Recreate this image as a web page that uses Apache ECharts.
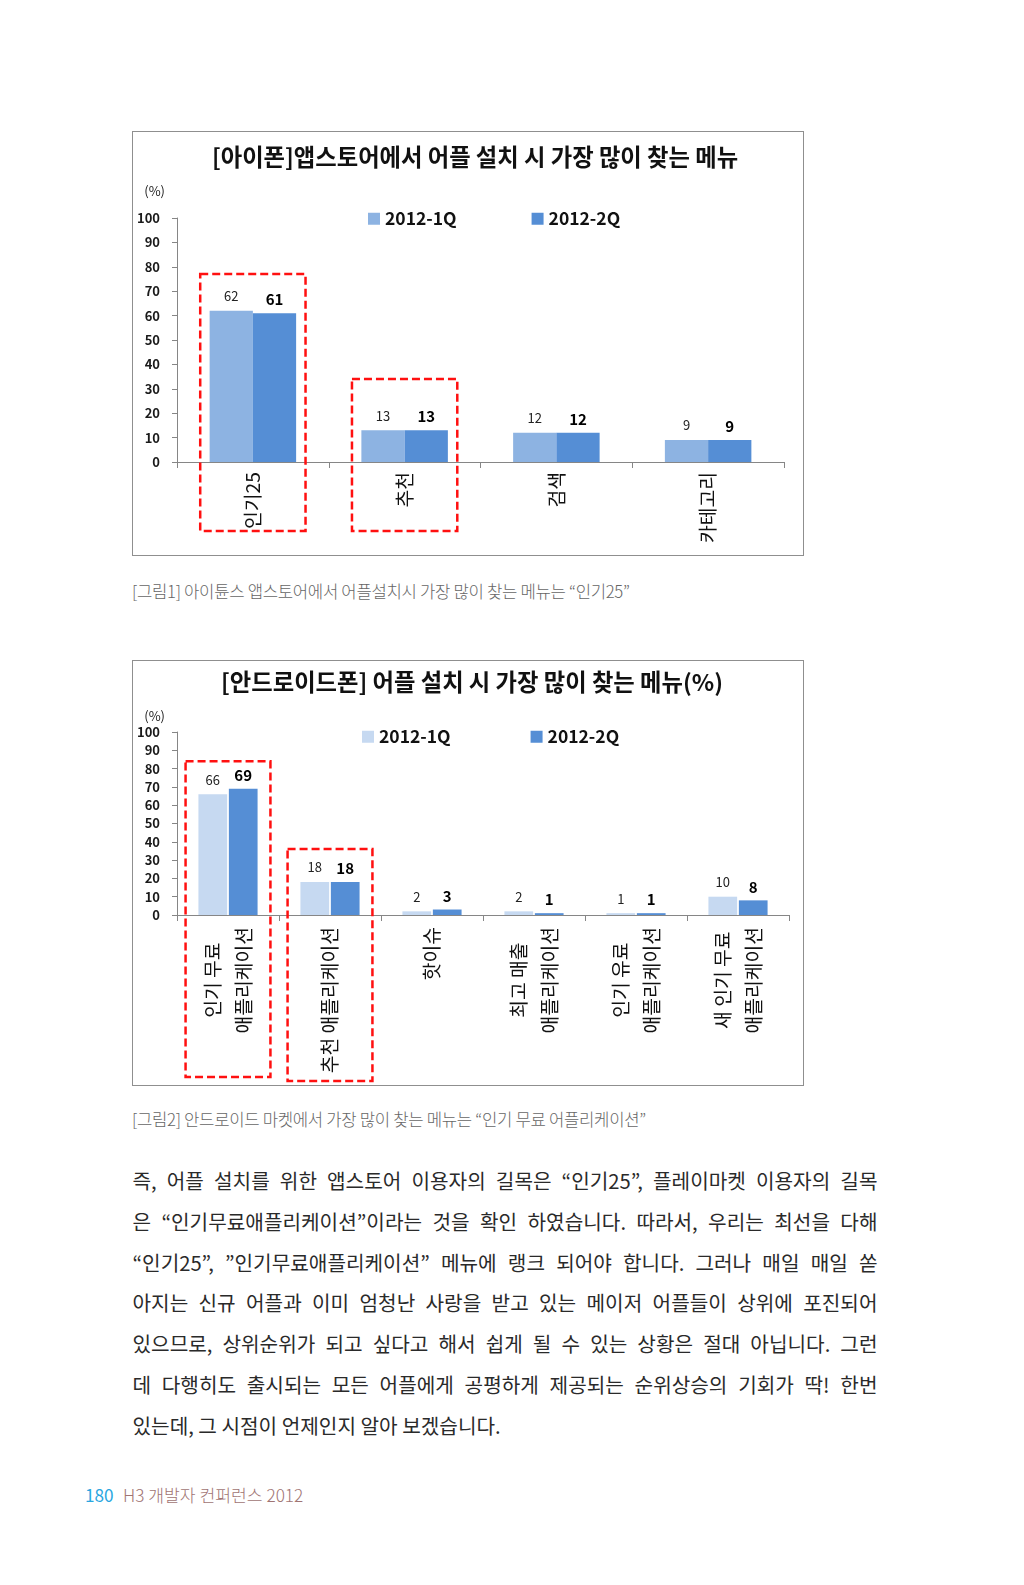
<!DOCTYPE html>
<html><head><meta charset="utf-8">
<script src="https://cdn.jsdelivr.net/npm/echarts@6/dist/echarts.min.js"></script>
<style>
html,body{margin:0;padding:0;background:#fff;width:1024px;height:1585px;overflow:hidden;font-family:"Noto Sans CJK KR","Noto Sans",sans-serif;}
.chart{position:absolute;left:132px;width:672px;}
.frame{position:absolute;left:132px;width:670px;border:1px solid #8f8f8f;pointer-events:none;}
.cap{position:absolute;left:132px;font-size:16.7px;color:#666;font-weight:300;white-space:nowrap;line-height:20px;letter-spacing:-0.3px;}
.line{position:absolute;left:132.5px;width:745px;font-size:20.2px;line-height:40px;color:#2a2a2a;text-align:justify;text-align-last:justify;white-space:nowrap;}
.line.last{text-align-last:left;}
.foot{position:absolute;top:1483px;font-size:17.2px;line-height:24px;white-space:nowrap;}
</style></head><body>
<div id="c1" class="chart" style="top:131px;height:425px;"></div>
<div class="frame" style="top:131px;height:423px;"></div>
<div class="cap" style="top:581px;">[그림1] 아이튠스 앱스토어에서 어플설치시 가장 많이 찾는 메뉴는 “인기25”</div>
<div id="c2" class="chart" style="top:660px;height:426px;"></div>
<div class="frame" style="top:660px;height:424px;"></div>
<div class="cap" style="top:1109px;">[그림2] 안드로이드 마켓에서 가장 많이 찾는 메뉴는 “인기 무료 어플리케이션”</div>
<div id="body"></div>
<div class="foot" style="left:85px;color:#2aa6df;">180</div>
<div class="foot" style="left:123px;color:#a07473;font-weight:300;">H3 개발자 컨퍼런스 2012</div>
<script>
// ---- data ----
const seriesNames = ['2012-1Q', '2012-2Q'];
const iphoneTitle = '[아이폰]앱스토어에서 어플 설치 시 가장 많이 찾는 메뉴';
const iphoneCategories = ['인기25', '추천', '검색', '카테고리'];
const iphone1Q = [62, 13, 12, 9];
const iphone2Q = [61, 13, 12, 9];
const iphoneHighlight = [{category: '인기25', top: 77}, {category: '추천', top: 34}];

const androidTitle = '[안드로이드폰] 어플 설치 시 가장 많이 찾는 메뉴(%)';
const androidCategories = ['인기 무료\n애플리케이션', '추천 애플리케이션', '핫이슈', '최고 매출\n애플리케이션', '인기 유료\n애플리케이션', '새 인기 무료\n애플리케이션'];
const android1Q = [66, 18, 2, 2, 1, 10];
const android2Q = [69, 18, 3, 1, 1, 8];
const androidHighlight = [{category: androidCategories[0], top: 84}, {category: androidCategories[1], top: 36}];

const yMin = 0, yMax = 100, yStep = 10;
const yName = '(%)';

const bodyLines = [
  '즉, 어플 설치를 위한 앱스토어 이용자의 길목은 “인기25”, 플레이마켓 이용자의 길목',
  '은 “인기무료애플리케이션”이라는 것을 확인 하였습니다. 따라서, 우리는 최선을 다해',
  '“인기25”, ”인기무료애플리케이션” 메뉴에 랭크 되어야 합니다. 그러나 매일 매일 쏟',
  '아지는 신규 어플과 이미 엄청난 사랑을 받고 있는 메이저 어플들이 상위에 포진되어',
  '있으므로, 상위순위가 되고 싶다고 해서 쉽게 될 수 있는 상황은 절대 아닙니다. 그런',
  '데 다행히도 출시되는 모든 어플에게 공평하게 제공되는 순위상승의 기회가 딱! 한번',
  '있는데, 그 시점이 언제인지 알아 보겠습니다.'
];

// ---- body text ----
const bodyEl = document.getElementById('body');
bodyLines.forEach((t, i) => {
  const d = document.createElement('div');
  d.className = 'line' + (i === bodyLines.length - 1 ? ' last' : '');
  d.style.top = (1161 + i * 40.75) + 'px';
  d.textContent = t;
  bodyEl.appendChild(d);
});

const FONT = '"Noto Sans CJK KR", "Noto Sans", sans-serif';

function buildOption(cfg) {
  return {
    animation: false,
    textStyle: {fontFamily: FONT},
    title: {
      text: cfg.title, left: cfg.titleLeft, top: cfg.titleTop, textAlign: 'center',
      textStyle: {fontFamily: FONT, fontSize: 23.3, fontWeight: 'bold', color: '#111'}
    },
    legend: {
      data: seriesNames, left: cfg.legendLeft, top: cfg.legendTop,
      itemWidth: 12, itemHeight: 12, itemGap: cfg.legendGap, icon: 'rect',
      textStyle: {fontFamily: FONT, fontSize: 17.5, fontWeight: 'bold', color: '#111'}
    },
    grid: {left: 45, right: cfg.gridRight, top: cfg.gridTop, bottom: cfg.gridBottom, containLabel: false},
    xAxis: {
      type: 'category', data: cfg.categories,
      axisLine: {lineStyle: {color: '#868686', width: 1}},
      axisTick: {show: true, length: 6, lineStyle: {color: '#868686'}},
      axisLabel: {
        interval: 0, rotate: 90, margin: cfg.labelMargin,
        fontFamily: FONT, fontSize: 19.3, color: '#111',
        formatter: function (v) {
          if (v.indexOf('\n') < 0) return v;
          return v.split('\n').map(s => '{c|' + s + '}').join('\n');
        },
        rich: {c: {fontFamily: FONT, fontSize: 19.3, color: '#111', align: 'center', lineHeight: 31.5}}
      }
    },
    yAxis: {
      type: 'value', min: yMin, max: yMax, interval: yStep,
      name: yName, nameLocation: 'end', nameGap: cfg.nameGap,
      nameTextStyle: {fontFamily: FONT, fontSize: 13, color: '#222', align: 'right', padding: [0, 12, 0, 0]},
      axisLine: {show: true, lineStyle: {color: '#868686'}},
      axisTick: {show: true, length: 5, lineStyle: {color: '#868686'}},
      splitLine: {show: false},
      axisLabel: {margin: 17, fontFamily: FONT, fontSize: 13, fontWeight: 'bold', color: '#1a1a1a'}
    },
    series: [
      {
        name: seriesNames[0], type: 'bar', data: cfg.s1, barGap: cfg.barGap, barCategoryGap: cfg.catGap,
        itemStyle: {color: cfg.c1},
        label: {show: true, position: 'top', distance: 8, fontFamily: FONT, fontSize: 13, color: '#222'}
      },
      {
        name: seriesNames[1], type: 'bar', data: cfg.s2, barGap: cfg.barGap, barCategoryGap: cfg.catGap,
        itemStyle: {color: cfg.c2},
        label: {show: true, position: 'top', distance: 6, fontFamily: FONT, fontSize: 15, fontWeight: 'bold', color: '#000'}
      }
    ]
  };
}

function addHighlights(chart, categories, highlights, halfFrac, belowPx) {
  const x0 = chart.convertToPixel({xAxisIndex: 0}, categories[0]);
  const x1 = chart.convertToPixel({xAxisIndex: 0}, categories[1]);
  const band = Math.abs(x1 - x0);
  const yBase = chart.convertToPixel({yAxisIndex: 0}, 0);
  const elements = highlights.map((h, i) => {
    const cx = chart.convertToPixel({xAxisIndex: 0}, h.category);
    const yt = chart.convertToPixel({yAxisIndex: 0}, h.top);
    const hw = band * halfFrac;
    return {
      type: 'rect', silent: true, z: 100,
      shape: {x: cx - hw, y: yt, width: hw * 2, height: yBase + belowPx[i] - yt},
      style: {fill: 'none', stroke: '#ff1010', lineWidth: 2.5, lineDash: [8, 4]}
    };
  });
  chart.setOption({graphic: elements});
}

const chart1 = echarts.init(document.getElementById('c1'));
chart1.setOption(buildOption({
  title: iphoneTitle, titleLeft: 338, titleTop: 10,
  legendLeft: 231, legendTop: 74, legendGap: 75,
  gridRight: 20, gridTop: 87, gridBottom: 94, labelMargin: 10, nameGap: 20,
  categories: iphoneCategories, s1: iphone1Q, s2: iphone2Q,
  barGap: '0%', catGap: '43%', c1: '#8db3e2', c2: '#558ed5'
}));
addHighlights(chart1, iphoneCategories, iphoneHighlight, 0.347, [69, 69]);

const chart2 = echarts.init(document.getElementById('c2'));
chart2.setOption(buildOption({
  title: androidTitle, titleLeft: 335, titleTop: 6,
  legendLeft: 225, legendTop: 63, legendGap: 80,
  gridRight: 15, gridTop: 72, gridBottom: 171, labelMargin: 12, nameGap: 9,
  categories: androidCategories, s1: android1Q, s2: android2Q,
  barGap: '6%', catGap: '42%', c1: '#c6d9f1', c2: '#558ed5'
}));
addHighlights(chart2, androidCategories, androidHighlight, 0.416, [162, 166]);
</script>
</body></html>
